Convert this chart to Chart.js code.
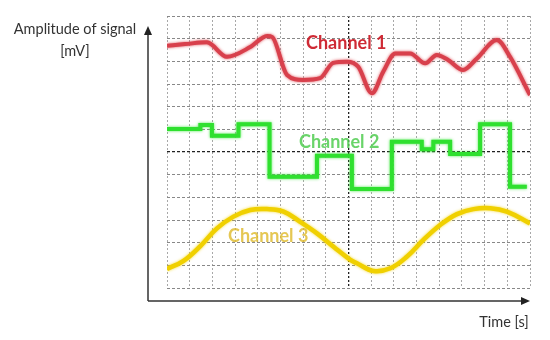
<!DOCTYPE html>
<html>
<head>
<meta charset="utf-8">
<script src="https://cdn.jsdelivr.net/npm/chart.js@4/dist/chart.umd.min.js"></script>
<style>
  html, body { margin: 0; padding: 0; background: #fff; }
  #wrap { width: 550px; height: 340px; position: relative; }
</style>
</head>
<body>
<div id="wrap"><canvas id="scope"></canvas></div>
<script>
// time in grid divisions, amplitude in grid divisions
const ch1Time = [0, 0.8, 1.76, 2.64, 3.67, 4.41, 4.64, 5.29, 6.0, 6.75, 7.33, 7.93, 8.43, 9.03, 9.53, 10.06, 10.72, 11.38, 11.89, 12.39, 13.05, 13.66, 14.54, 15.12, 16];
const ch1Amp  = [10.69, 10.76, 10.84, 10.2, 10.63, 11.12, 11.07, 9.4, 9.18, 9.26, 9.93, 9.98, 9.76, 8.59, 9.54, 10.35, 10.35, 9.91, 10.28, 10.06, 9.62, 10.13, 10.94, 10.2, 8.51];

const ch2Time = [0, 1.47, 1.98, 3.15, 4.52, 6.61, 8.15, 9.91, 11.23, 11.74, 12.48, 13.8, 15.12, 15.86];
const ch2Amp  = [7.01, 7.19, 6.72, 7.22, 4.91, 5.84, 4.37, 6.45, 6.12, 6.45, 5.91, 7.22, 4.47, 4.47];

const ch3Time = [0, 0.73, 1.47, 2.2, 2.93, 3.67, 4.41, 5.14, 5.87, 6.61, 7.34, 8.08, 8.37, 9.1, 9.84, 10.57, 11.3, 12.04, 12.78, 13.51, 14.25, 14.98, 16];
const ch3Amp  = [0.84, 1.2, 1.85, 2.63, 3.15, 3.44, 3.48, 3.37, 2.92, 2.41, 1.82, 1.24, 1.09, 0.75, 0.87, 1.38, 2.12, 2.78, 3.26, 3.48, 3.52, 3.37, 2.85];

const channelNames = ["Channel 1", "Channel 2", "Channel 3"];
const labelTime = [7.9, 7.59, 4.46];
const labelAmp  = [10.81, 6.44, 2.29];

const xDivisions = 16;
const yDivisions = 12;

const toPoints = (xs, ys) => xs.map((x, i) => ({ x: x, y: ys[i] }));

// glow + channel names + axis arrows
const scopeDecor = {
  id: "scopeDecor",
  beforeDatasetDraw(chart, args) {
    const ds = chart.data.datasets[args.index];
    chart.ctx.save();
    chart.ctx.shadowColor = ds.glow;
    chart.ctx.shadowBlur = 3;
  },
  afterDatasetDraw(chart) {
    chart.ctx.restore();
  },
  afterDraw(chart) {
    const ctx = chart.ctx;
    const a = chart.chartArea;
    const xs = chart.scales.x, ys = chart.scales.y;

    // channel names
    const nameColors = ["rgba(204,31,42,0.95)", "rgba(80,205,80,0.85)", "rgba(222,185,40,0.8)"];
    ctx.save();
    ctx.font = "bold 18px Lato";
    ctx.textAlign = "center";
    ctx.textBaseline = "middle";
    channelNames.forEach((n, i) => {
      ctx.fillStyle = nameColors[i];
      ctx.fillText(n, xs.getPixelForValue(labelTime[i]), ys.getPixelForValue(labelAmp[i]));
    });
    ctx.restore();

    // axes with arrows
    const ax = a.left - 19, ay = a.bottom + 13;
    ctx.save();
    ctx.strokeStyle = "#333";
    ctx.fillStyle = "#222";
    ctx.lineWidth = 1.5;
    ctx.beginPath();
    ctx.moveTo(ax, ay);
    ctx.lineTo(ax, 34);
    ctx.moveTo(ax, ay);
    ctx.lineTo(a.right - 6, ay);
    ctx.stroke();
    ctx.beginPath();
    ctx.moveTo(ax, 26);
    ctx.lineTo(ax - 4, 35);
    ctx.lineTo(ax + 4, 35);
    ctx.closePath();
    ctx.fill();
    ctx.beginPath();
    ctx.moveTo(a.right, ay);
    ctx.lineTo(a.right - 9, ay - 4);
    ctx.lineTo(a.right - 9, ay + 4);
    ctx.closePath();
    ctx.fill();

    ctx.fillStyle = "#333";
    ctx.font = "14.5px Lato";
    ctx.textAlign = "center";
    ctx.textBaseline = "middle";
    ctx.fillText("Amplitude of signal", 75, 29);
    ctx.fillText("[mV]", 75, 51);
    ctx.fillText("Time [s]", 504, 322);
    ctx.restore();
  }
};

new Chart(document.getElementById("scope"), {
  type: "line",
  data: {
    datasets: [
      {
        label: channelNames[0],
        data: toPoints(ch1Time, ch1Amp),
        borderColor: "#d8404c",
        glow: "rgba(220,60,70,0.9)",
        borderWidth: 4,
        cubicInterpolationMode: "monotone",
        pointRadius: 0,
      },
      {
        label: channelNames[1],
        data: toPoints(ch2Time, ch2Amp),
        borderColor: "#2fe02f",
        glow: "rgba(60,230,60,0.9)",
        borderWidth: 4,
        stepped: "before",
        pointRadius: 0,
      },
      {
        label: channelNames[2],
        data: toPoints(ch3Time, ch3Amp),
        borderColor: "#f0d000",
        glow: "rgba(240,210,0,0.8)",
        borderWidth: 4.5,
        tension: 0.4,
        pointRadius: 0,
      },
    ],
  },
  options: {
    responsive: true,
    maintainAspectRatio: false,
    animation: false,
    layout: { padding: { left: 167, right: 20, top: 16, bottom: 52 } },
    plugins: { legend: { display: false }, tooltip: { enabled: false } },
    scales: {
      x: {
        type: "linear",
        min: 0,
        max: xDivisions,
        ticks: { display: false, stepSize: 1 },
        grid: {
          drawTicks: false,
          color: (c) => (c.tick && c.tick.value === xDivisions / 2 ? "#222" : "#a8a8a8"),
          lineWidth: (c) => (c.tick && c.tick.value === xDivisions / 2 ? 1.3 : 1),
        },
        border: { display: false, dash: [2, 2] },
      },
      y: {
        min: 0,
        max: yDivisions,
        ticks: { display: false, stepSize: 1 },
        grid: {
          drawTicks: false,
          color: (c) => (c.tick && c.tick.value === yDivisions / 2 ? "#222" : "#888"),
          lineWidth: (c) => (c.tick && c.tick.value === yDivisions / 2 ? 1.3 : 1),
        },
        border: { display: false, dash: [3, 2] },
      },
    },
  },
  plugins: [scopeDecor],
});
</script>
</body>
</html>
